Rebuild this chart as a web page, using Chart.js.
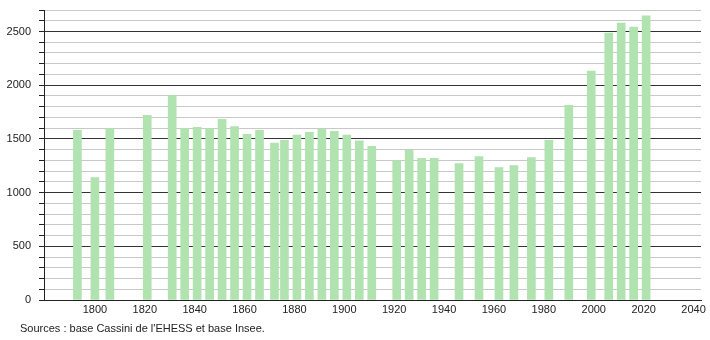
<!DOCTYPE html>
<html>
<head>
<meta charset="utf-8">
<script src="https://cdn.jsdelivr.net/npm/chart.js@4"></script>
<style>
  body { margin: 0; background: #fff; }
  canvas { display: block; }
</style>
</head>
<body>
<canvas id="myChart" width="710" height="340"></canvas>
<script>
// census years and population
const years = [1793, 1800, 1806, 1821, 1831, 1836, 1841, 1846, 1851, 1856,
  1861, 1866, 1872, 1876, 1881, 1886, 1891, 1896, 1901, 1906, 1911,
  1921, 1926, 1931, 1936, 1946, 1954, 1962, 1968, 1975, 1982, 1990,
  1999, 2006, 2011, 2016, 2021];
const population = [1580, 1140, 1595, 1720, 1904, 1598, 1607, 1595, 1682, 1615,
  1542, 1579, 1461, 1486, 1536, 1561, 1592, 1570, 1536, 1483, 1430,
  1296, 1393, 1318, 1318, 1271, 1336, 1234, 1252, 1327, 1486, 1813,
  2131, 2486, 2579, 2542, 2645];
const sourceText = "Sources : base Cassini de l'EHESS et base Insee.";

const FONT = "'Liberation Sans', Arial, sans-serif";

const sourcePlugin = {
  id: "source",
  afterDraw(chart) {
    const c = chart.ctx;
    c.save();
    c.font = "11px " + FONT;
    c.fillStyle = "#222";
    c.textBaseline = "middle";
    c.fillText(sourceText, 20, 329);
    c.restore();
  },
};

let ctx = document.getElementById("myChart");
new Chart(ctx, {
  type: "bar",
  data: {
    datasets: [
      {
        label: "Population",
        data: years.map((y, i) => ({ x: y, y: population[i] })),
        backgroundColor: "#b1e3b0",
        barThickness: 8,
      },
    ],
  },
  plugins: [sourcePlugin],
  options: {
    responsive: false,
    animation: false,
    layout: { padding: { top: 10, right: 9, left: 0, bottom: 0 } },
    plugins: {
      legend: { display: false },
      tooltip: { enabled: false },
    },
    scales: {
      x: {
        type: "linear",
        min: 1779.6,
        max: 2043,
        offset: false,
        grid: { display: false, drawTicks: false },
        border: { display: true, color: "#222", width: 1 },
        afterFit: (scale) => {
          scale.height = 40;
          scale.paddingLeft = 0;
          scale.paddingRight = 0;
        },
        ticks: {
          stepSize: 20,
          includeBounds: false,
          padding: 3,
          maxRotation: 0,
          autoSkip: false,
          color: "#222",
          font: { family: FONT, size: 11 },
          callback: (v) => (v >= 1800 ? String(v) : ""),
        },
      },
      y: {
        min: 0,
        max: 2700,
        afterFit: (scale) => {
          scale.width = 44;
          scale.paddingTop = 0;
          scale.paddingBottom = 0;
        },
        grid: {
          color: (c) => (c.tick && c.tick.value % 500 === 0 ? "#333" : "#c8c8c8"),
          tickColor: "#222",
          tickLength: 5,
        },
        border: { display: true, color: "#222", width: 1 },
        ticks: {
          stepSize: 100,
          autoSkip: false,
          padding: 8,
          color: "#222",
          font: { family: FONT, size: 11 },
          callback: (v) => (v % 500 === 0 ? String(v) : ""),
        },
      },
    },
  },
});
</script>
</body>
</html>
